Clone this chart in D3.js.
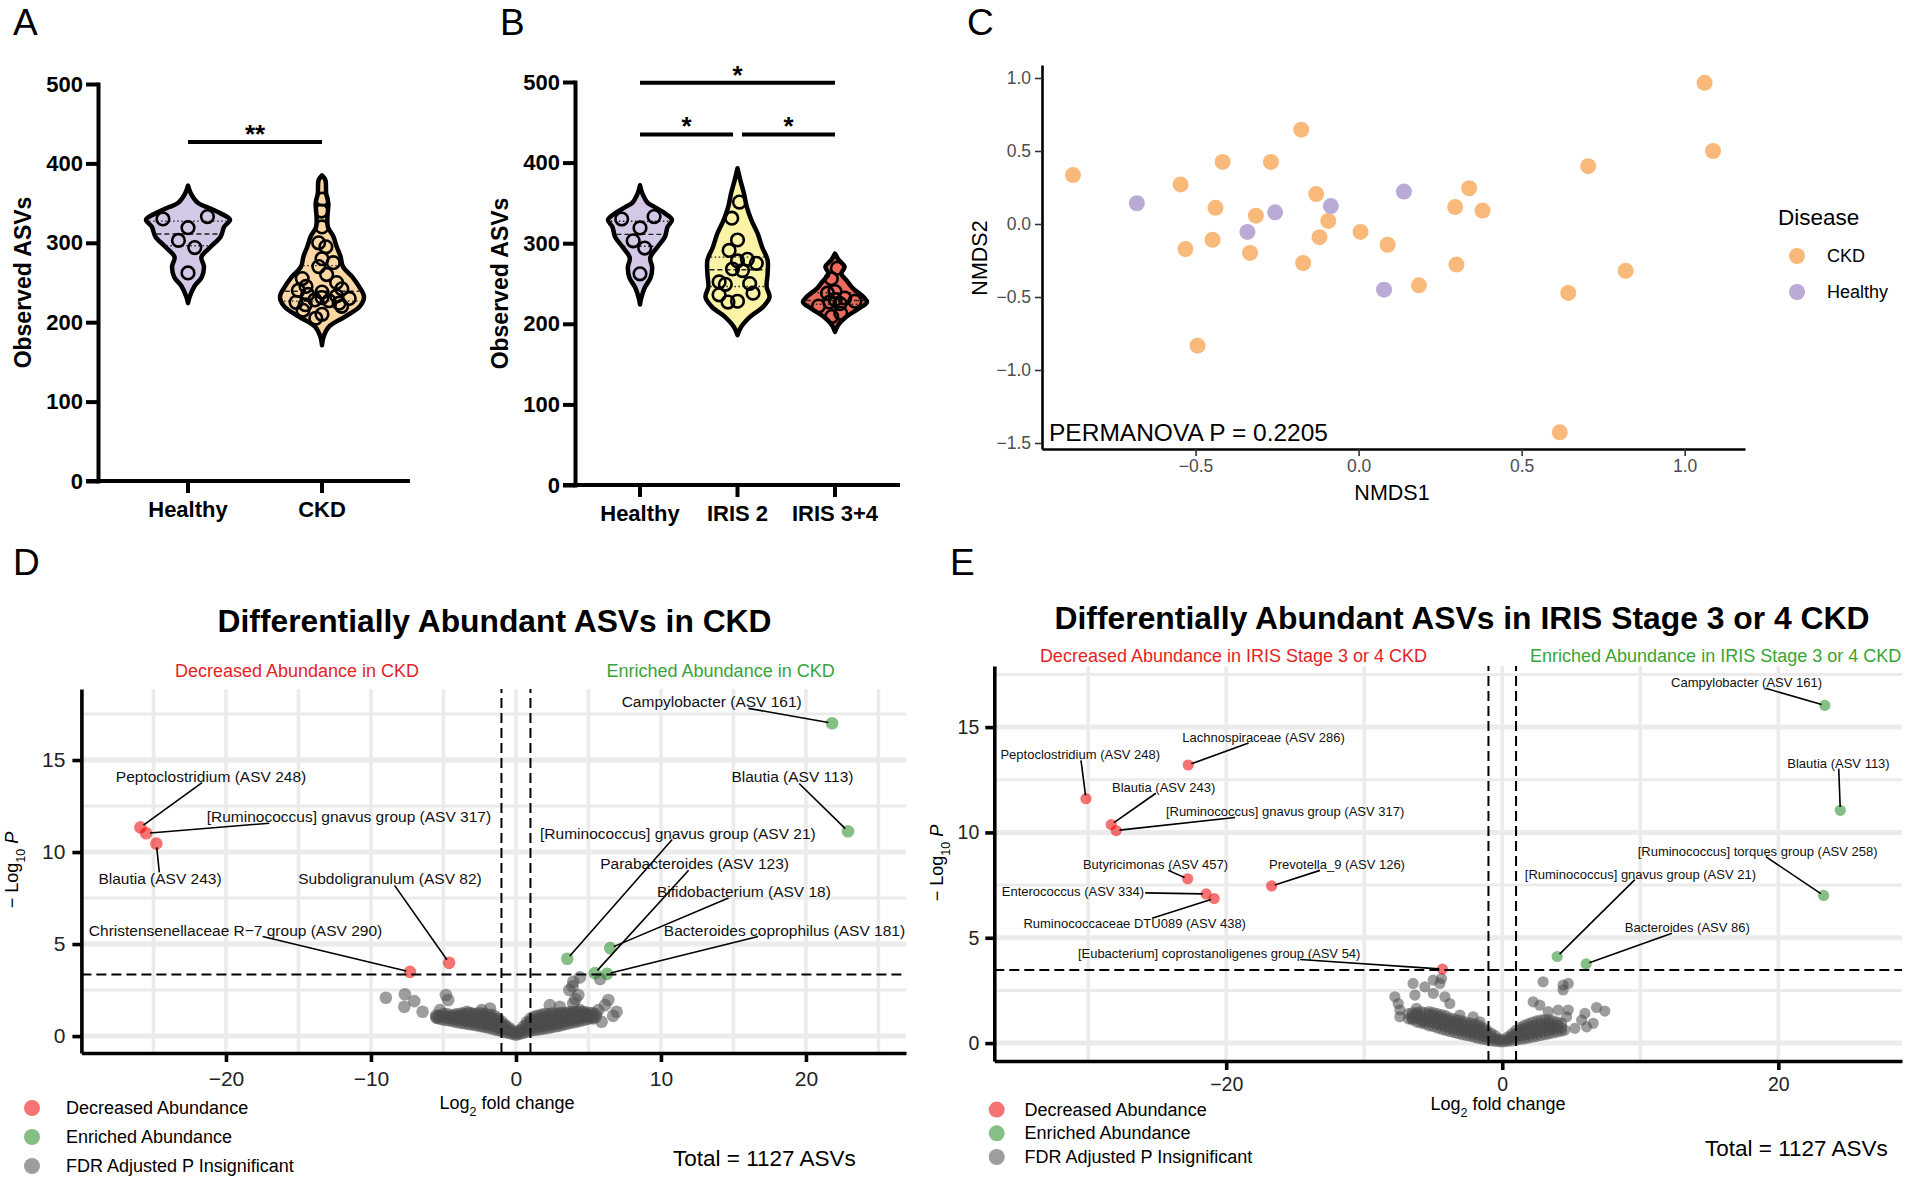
<!DOCTYPE html>
<html>
<head>
<meta charset="utf-8">
<title>Gut microbiome diversity and differential abundance in CKD</title>
<script src="https://cdn.jsdelivr.net/npm/d3@7.9.0/dist/d3.min.js"></script>
<style>
  body { margin: 0; background: #fff; }
  svg { display: block; font-family: "Liberation Sans", Arial, Helvetica, sans-serif; }
</style>
</head>
<body>
<svg id="figure" width="1907" height="1181"></svg>
<script>
// ---------- A / B : observed ASVs ----------
const groupsA = ["Healthy", "CKD"];
const groupsB = ["Healthy", "IRIS 2", "IRIS 3+4"];
const asvTicks = [0, 100, 200, 300, 400, 500];

const healthyASVs = [333, 330, 319, 303, 294, 262];
const ckdASVs = [355, 340, 320, 300, 295, 280, 275, 270, 260, 255, 250, 245, 242, 240,
                 238, 235, 233, 231, 230, 228, 227, 225, 224, 222, 220, 215, 210, 205];
const iris2ASVs = [351, 331, 304, 291, 280, 278, 275, 268, 266, 252, 250, 249, 238, 236, 228, 227];
const iris34ASVs = [269, 256, 240, 238, 232, 230, 228, 227, 225, 222, 213, 209];

// violin outlines as drawn in the figure: [observed ASVs, relative half width]
const healthyShape = [[372, 0], [362, 0.07], [350, 0.24], [345, 0.45], [337, 0.78], [329, 1], [320, 0.86],
  [308, 0.78], [295, 0.54], [282, 0.32], [270, 0.38], [257, 0.33], [245, 0.15], [232, 0.04], [224, 0]];
const ckdShape = [[385, 0], [379, 0.08], [362, 0.1], [350, 0.15], [333, 0.13], [320, 0.14], [308, 0.27],
  [295, 0.35], [283, 0.44], [270, 0.5], [257, 0.72], [245, 0.88], [232, 1], [220, 0.9], [207, 0.55],
  [194, 0.16], [182, 0.04], [171, 0]];
const iris2Shape = [[393, 0], [378, 0.09], [362, 0.2], [345, 0.29], [329, 0.43], [312, 0.63], [295, 0.77],
  [279, 0.94], [262, 0.94], [246, 0.91], [233, 1], [221, 0.8], [209, 0.4], [196, 0.11], [186, 0]];
const iris34Shape = [[287, 0], [279, 0.12], [271, 0.3], [262, 0.2], [254, 0.36], [244, 0.56], [233, 0.9],
  [227, 1], [219, 0.75], [209, 0.36], [198, 0.09], [190, 0]];

// significance brackets: [from, to, height in ASVs, stars]
const sigA = [["Healthy", "CKD", 427, "**"]];
const sigB = [["Healthy", "IRIS 3+4", 499, "*"], ["Healthy", "IRIS 2", 435, "*"], ["IRIS 2", "IRIS 3+4", 435, "*"]];

// ---------- C : NMDS ordination ----------
const ckdNMDS = [[-0.876, 0.335], [-0.546, 0.271], [-0.417, 0.425], [-0.269, 0.425], [-0.176, 0.646],
  [-0.439, 0.111], [-0.315, 0.057], [-0.130, 0.205], [-0.093, 0.021], [-0.531, -0.172], [-0.448, -0.108],
  [-0.333, -0.198], [-0.120, -0.090], [-0.170, -0.267], [0.006, -0.054], [0.089, -0.142], [0.185, -0.420],
  [0.296, 0.116], [0.339, 0.245], [0.380, 0.092], [0.300, -0.278], [-0.494, -0.833], [0.704, 0.396],
  [1.061, 0.967], [1.087, 0.500], [0.819, -0.321], [0.643, -0.472], [0.617, -1.427]];
const healthyNMDS = [[-0.680, 0.142], [-0.256, 0.080], [-0.341, -0.054], [-0.085, 0.123], [0.139, 0.222], [0.078, -0.450]];
const nmdsTicksX = [-0.5, 0, 0.5, 1];
const nmdsTicksY = [-1.5, -1, -0.5, 0, 0.5, 1];

// ---------- D : CKD vs healthy volcano ----------
const volcanoYTicks = [0, 5, 10, 15];
const dXTicks = [-20, -10, 0, 10, 20];
const dDown = [
  ["Peptoclostridium (ASV 248)", -25.9, 11.34],
  ["[Ruminococcus] gnavus group (ASV 317)", -25.5, 11.02],
  ["Blautia (ASV 243)", -24.8, 10.46],
  ["Christensenellaceae R\u22127 group (ASV 290)", -7.31, 3.49],
  ["Subdoligranulum (ASV 82)", -4.61, 3.98]];
const dUp = [
  ["Campylobacter (ASV 161)", 21.8, 17.0],
  ["Blautia (ASV 113)", 22.9, 11.13],
  ["[Ruminococcus] gnavus group (ASV 21)", 3.54, 4.2],
  ["Parabacteroides (ASV 123)", 5.44, 3.42],
  ["Bifidobacterium (ASV 18)", 6.5, 4.78],
  ["Bacteroides coprophilus (ASV 181)", 6.28, 3.38]];
// where the repelled labels sit, in axis units
const dLabelSpots = {
  "Peptoclostridium (ASV 248)": [-21.03, 14.13],
  "[Ruminococcus] gnavus group (ASV 317)": [-11.52, 11.92],
  "Blautia (ASV 243)": [-24.55, 8.54],
  "Christensenellaceae R\u22127 group (ASV 290)": [-19.34, 5.76],
  "Subdoligranulum (ASV 82)": [-8.69, 8.54],
  "Campylobacter (ASV 161)": [13.5, 18.16],
  "Blautia (ASV 113)": [19.07, 14.08],
  "[Ruminococcus] gnavus group (ASV 21)": [11.17, 11.03],
  "Parabacteroides (ASV 123)": [12.32, 9.36],
  "Bifidobacterium (ASV 18)": [15.72, 7.85],
  "Bacteroides coprophilus (ASV 181)": [18.52, 5.76]};
// non-significant ASVs: scattered ones, then the dense core read column by column
const dInsigLoose = [
  [-8.97, 2.08], [-7.66, 2.27], [-7.7, 1.59], [-7.01, 1.9], [-6.44, 1.32], [-4.83, 2.23], [-4.67, 1.96],
  [-5.24, 1.41], [-5.43, 1.01], [-3.4, 1.32], [-1.79, 1.5], [-2.37, 1.41],
  [3.95, 2.95], [4.41, 3.19], [3.68, 2.5], [3.9, 2.7], [4.3, 2.23], [3.95, 1.78], [4.1, 2.0], [2.34, 1.68],
  [3.03, 1.59], [6.37, 1.96], [6.14, 1.68], [6.94, 1.32], [5.68, 1.41], [5.33, 0.96], [5.91, 0.78],
  [4.41, 1.41], [4.87, 1.14], [5.8, 3.1], [6.7, 1.1]];
const dInsigCore = [
  [-5.5, [1.0, 1.12]], [-5.25, [0.95, 1.1]], [-5.0, [0.9, 1.05, 1.2]], [-4.75, [0.87, 1.03, 1.2]],
  [-4.5, [0.84, 0.98, 1.1]], [-4.25, [0.8, 0.97, 1.15]], [-4.0, [0.76, 0.93, 1.08, 1.2]],
  [-3.75, [0.72, 0.9, 1.06, 1.22]], [-3.5, [0.7, 0.87, 1.03, 1.2]], [-3.25, [0.66, 0.84, 1.02, 1.25]],
  [-3.0, [0.63, 0.8, 0.98, 1.15, 1.22]], [-2.75, [0.6, 0.78, 0.96, 1.2]], [-2.5, [0.55, 0.74, 0.92, 1.1, 1.25]],
  [-2.25, [0.52, 0.7, 0.88, 1.05, 1.2]], [-2.0, [0.48, 0.66, 0.84, 1.0, 1.15]],
  [-1.75, [0.43, 0.62, 0.8, 0.98, 1.15]], [-1.5, [0.38, 0.56, 0.74, 0.92, 1.1]],
  [-1.25, [0.33, 0.5, 0.68, 0.85, 0.95]], [-1.0, [0.28, 0.45, 0.62, 0.8]], [-0.75, [0.22, 0.38, 0.52, 0.6]],
  [-0.5, [0.18, 0.32, 0.45]], [-0.25, [0.12, 0.22, 0.3]], [0, [0.08, 0.15]], [0.25, [0.12, 0.22, 0.3]],
  [0.5, [0.18, 0.34, 0.5]], [0.75, [0.24, 0.42, 0.6, 0.75]], [1.0, [0.3, 0.47, 0.64, 0.8, 0.95]],
  [1.25, [0.33, 0.5, 0.68, 0.86, 1.05]], [1.5, [0.36, 0.54, 0.72, 0.9, 1.1]],
  [1.75, [0.39, 0.58, 0.76, 0.95, 1.15]], [2.0, [0.42, 0.6, 0.8, 1.0, 1.2]],
  [2.25, [0.45, 0.64, 0.83, 1.02, 1.2]], [2.5, [0.5, 0.68, 0.86, 1.04, 1.22]],
  [2.75, [0.53, 0.7, 0.88, 1.05, 1.2]], [3.0, [0.57, 0.74, 0.92, 1.1, 1.25]],
  [3.25, [0.62, 0.8, 0.98, 1.15, 1.25]], [3.5, [0.67, 0.85, 1.02, 1.18, 1.25]],
  [3.75, [0.72, 0.88, 1.05, 1.2, 1.3]], [4.0, [0.76, 0.92, 1.08, 1.22, 1.3]], [4.25, [0.8, 0.96, 1.12, 1.3]],
  [4.5, [0.85, 1.0, 1.15, 1.3]], [4.75, [0.9, 1.05, 1.2, 1.3]], [5.0, [0.95, 1.1, 1.25]],
  [5.25, [1.0, 1.12, 1.25]], [5.5, [1.05, 1.2]]];

// ---------- E : IRIS stage 3/4 vs healthy volcano ----------
const eXTicks = [-20, 0, 20];
const eDown = [
  ["Lachnospiraceae (ASV 286)", -22.75, 13.2],
  ["Peptoclostridium (ASV 248)", -30.16, 11.6],
  ["Blautia (ASV 243)", -28.33, 10.37],
  ["[Ruminococcus] gnavus group (ASV 317)", -27.97, 10.09],
  ["Butyricimonas (ASV 457)", -22.79, 7.8],
  ["Enterococcus (ASV 334)", -21.45, 7.08],
  ["Ruminococcaceae DTU089 (ASV 438)", -20.87, 6.86],
  ["Prevotella_9 (ASV 126)", -16.71, 7.46],
  ["[Eubacterium] coprostanoligenes group (ASV 54)", -4.33, 3.51]];
const eUp = [
  ["Campylobacter (ASV 161)", 23.37, 16.03],
  ["Blautia (ASV 113)", 24.49, 11.05],
  ["[Ruminococcus] torques group (ASV 258)", 23.28, 7.01],
  ["[Ruminococcus] gnavus group (ASV 21)", 3.98, 4.11],
  ["Bacteroides (ASV 86)", 6.08, 3.76]];
const eLabelSpots = {
  "Lachnospiraceae (ASV 286)": [-17.29, 14.51],
  "Peptoclostridium (ASV 248)": [-30.57, 13.68],
  "Blautia (ASV 243)": [-24.53, 12.12],
  "[Ruminococcus] gnavus group (ASV 317)": [-15.73, 10.97],
  "Butyricimonas (ASV 457)": [-25.12, 8.46],
  "Enterococcus (ASV 334)": [-31.1, 7.19],
  "Ruminococcaceae DTU089 (ASV 438)": [-26.63, 5.67],
  "Prevotella_9 (ASV 126)": [-11.97, 8.46],
  "[Eubacterium] coprostanoligenes group (ASV 54)": [-20.51, 4.23],
  "Campylobacter (ASV 161)": [17.7, 17.1],
  "Blautia (ASV 113)": [24.36, 13.29],
  "[Ruminococcus] torques group (ASV 258)": [18.5, 9.11],
  "[Ruminococcus] gnavus group (ASV 21)": [10.01, 8.02],
  "Bacteroides (ASV 86)": [13.41, 5.48]};
const eInsigLoose = [
  [-7.78, 2.2], [-7.54, 1.88], [-7.42, 1.57], [-7.42, 1.25], [-6.46, 2.83], [-6.33, 2.28], [-5.61, 2.67],
  [-5.0, 2.36], [-5.0, 2.99], [-4.4, 3.07], [-4.52, 2.83], [-4.16, 2.2], [-3.8, 1.88], [-6.21, 1.65],
  [-6.57, 1.17], [-5.73, 1.01], [-3.07, 1.33], [-2.11, 1.25], [-1.62, 1.01],
  [2.96, 2.91], [4.41, 2.75], [4.78, 2.83], [4.41, 2.52], [2.24, 1.96], [2.72, 1.8], [3.33, 1.49],
  [4.05, 1.57], [4.78, 1.57], [4.66, 1.25], [6.83, 1.69], [7.43, 1.52], [5.99, 1.41], [5.75, 1.09],
  [6.59, 0.94], [6.11, 0.77], [5.26, 0.7], [4.54, 0.62], [3.69, 0.7]];
const eInsigCore = [
  [-6.8, [1.15, 1.4]], [-6.5, [1.1, 1.28, 1.45]], [-6.2, [1.0, 1.18, 1.35, 1.45]],
  [-5.9, [0.95, 1.12, 1.3, 1.5]], [-5.6, [0.9, 1.08, 1.26, 1.45]], [-5.3, [0.82, 1.0, 1.18, 1.36, 1.5]],
  [-5.0, [0.78, 0.96, 1.14, 1.32, 1.45]], [-4.7, [0.72, 0.9, 1.08, 1.26, 1.4]],
  [-4.4, [0.66, 0.84, 1.02, 1.2, 1.35]], [-4.1, [0.6, 0.78, 0.96, 1.14, 1.3]],
  [-3.8, [0.55, 0.72, 0.9, 1.06, 1.2]], [-3.5, [0.5, 0.68, 0.86, 1.02, 1.15]],
  [-3.2, [0.45, 0.63, 0.8, 0.96, 1.1]], [-2.9, [0.4, 0.58, 0.75, 0.92, 1.05]],
  [-2.6, [0.36, 0.54, 0.7, 0.86, 1.0]], [-2.3, [0.32, 0.5, 0.66, 0.82, 0.95]],
  [-2.0, [0.27, 0.44, 0.6, 0.76, 0.9]], [-1.7, [0.22, 0.4, 0.56, 0.72, 0.85]],
  [-1.4, [0.18, 0.34, 0.5, 0.65, 0.75]], [-1.1, [0.14, 0.3, 0.45, 0.6]], [-0.8, [0.1, 0.24, 0.36, 0.48]],
  [-0.5, [0.08, 0.2, 0.35]], [-0.2, [0.06, 0.14, 0.2]], [0.1, [0.06, 0.15]], [0.4, [0.08, 0.18, 0.3]],
  [0.7, [0.1, 0.22, 0.34, 0.45]], [1.0, [0.14, 0.3, 0.46, 0.62]], [1.3, [0.17, 0.34, 0.5, 0.65, 0.75]],
  [1.6, [0.2, 0.38, 0.55, 0.7, 0.85]], [1.9, [0.24, 0.42, 0.6, 0.76, 0.92]],
  [2.2, [0.28, 0.46, 0.64, 0.82, 1.0]], [2.5, [0.32, 0.5, 0.68, 0.86, 1.05]],
  [2.8, [0.36, 0.54, 0.72, 0.9, 1.1]], [3.1, [0.4, 0.58, 0.76, 0.94, 1.12]],
  [3.4, [0.44, 0.62, 0.8, 0.96, 1.1]], [3.7, [0.48, 0.66, 0.84, 1.05]], [4.0, [0.53, 0.7, 0.86, 1.0]],
  [4.3, [0.57, 0.74, 0.95]]];

const totalASVs = 1127;

// ---------- colours ----------
const violinFill = { "Healthy": "#d3c8e6", "CKD": "#fbd7a3", "IRIS 2": "#fbf3a6", "IRIS 3+4": "#ee6a5c" };
const nmdsColor = { CKD: "#f9b97b", Healthy: "#b9aad6" };
const downColor = "#ee0000", upColor = "#228b22", insigColor = "#4d4d4d";

const svg = d3.select("#figure");
svg.append("rect").attr("width", 1907).attr("height", 1181).attr("fill", "#fff");

// panel letters
[["A", 13, 35], ["B", 500, 35], ["C", 967, 35], ["D", 13, 575], ["E", 950, 575]].forEach(([t, x, y]) =>
  svg.append("text").attr("x", x).attr("y", y).attr("font-size", 37).text(t));

// ---------------- violins ----------------
function widthAt(shape, v) {
  for (let i = 0; i < shape.length - 1; i++) {
    const [va, wa] = shape[i], [vb, wb] = shape[i + 1];
    if (v <= va && v >= vb) return wa + (wb - wa) * (va - v) / (va - vb);
  }
  return 0;
}
const spread = [0.6, -0.7, 0, -0.4, 0.4, 0, 0.75, -0.2, 0.2, -0.75, 0.5, -0.5];

function violinPanel(o) {
  const g = svg.append("g");
  const x = d3.scalePoint().domain(o.groups).range(o.xRange);
  const y = d3.scaleLinear().domain([0, 500]).range(o.yRange);

  o.series.forEach(s => {
    const cx = x(s.group);
    const area = d3.area().curve(d3.curveCatmullRom.alpha(0.5))
      .y(d => y(d[0])).x0(d => cx - d[1] * o.maxW).x1(d => cx + d[1] * o.maxW);
    g.append("path").attr("d", area(s.shape)).attr("fill", violinFill[s.group])
      .attr("stroke", "#000").attr("stroke-width", 4.5).attr("stroke-linejoin", "round");

    const sorted = s.values.slice().sort(d3.ascending);
    [[0.25, "1.5,2.5"], [0.5, "5,3"], [0.75, "1.5,2.5"]].forEach(([q, dash]) => {
      const v = d3.quantile(sorted, q), w = widthAt(s.shape, v) * o.maxW - 2;
      g.append("line").attr("x1", cx - w).attr("x2", cx + w).attr("y1", y(v)).attr("y2", y(v))
        .attr("stroke", "#222").attr("stroke-width", 1.4).attr("stroke-dasharray", dash);
    });

    const desc = s.values.slice().sort(d3.descending);
    g.selectAll(null).data(desc).join("circle")
      .attr("cx", (d, i) => cx + spread[i % spread.length] * Math.max(0, widthAt(s.shape, d) * o.maxW - 5))
      .attr("cy", d => y(d)).attr("r", 6.3)
      .attr("fill", "none").attr("stroke", "#000").attr("stroke-width", 2.6);
  });

  // y axis
  const ya = g.append("g").attr("transform", `translate(${o.axisX},0)`)
    .call(d3.axisLeft(y).tickValues(asvTicks).tickSize(12).tickSizeOuter(0).tickPadding(3));
  ya.select(".domain").attr("stroke-width", 4).attr("stroke-linecap", "square");
  ya.selectAll(".tick line").attr("stroke-width", 4);
  ya.selectAll(".tick text").attr("font-size", 22).attr("font-weight", "bold").attr("fill", "#000")
    .attr("font-family", "Liberation Sans, Arial, sans-serif");

  // x axis
  g.append("line").attr("x1", o.baseLeft).attr("x2", o.baseRight).attr("y1", y(0)).attr("y2", y(0))
    .attr("stroke", "#000").attr("stroke-width", 4);
  o.groups.forEach(k => {
    g.append("line").attr("x1", x(k)).attr("x2", x(k)).attr("y1", y(0)).attr("y2", y(0) + 12)
      .attr("stroke", "#000").attr("stroke-width", 4);
    g.append("text").attr("x", x(k)).attr("y", y(0) + 36).attr("text-anchor", "middle")
      .attr("font-size", 22).attr("font-weight", "bold").text(k);
  });

  g.append("text").attr("transform", `translate(${o.ylabelX},${(o.yRange[0] + o.yRange[1]) / 2}) rotate(-90)`)
    .attr("text-anchor", "middle").attr("font-size", 23).attr("font-weight", "bold").text("Observed ASVs");

  // significance brackets
  const inner = new Set(o.groups.slice(1, -1));
  o.sig.forEach(([a, b, h, stars]) => {
    const xa = x(a) + (inner.has(a) ? 4.5 : 0), xb = x(b) - (inner.has(b) ? 4.5 : 0);
    g.append("line").attr("x1", xa).attr("x2", xb).attr("y1", y(h)).attr("y2", y(h))
      .attr("stroke", "#000").attr("stroke-width", 4);
    g.append("text").attr("x", (xa + xb) / 2).attr("y", y(h) + 1).attr("text-anchor", "middle")
      .attr("font-size", 26).attr("font-weight", "bold").text(stars);
  });
}

violinPanel({
  groups: groupsA, xRange: [188, 322], yRange: [481, 84], axisX: 98, baseLeft: 86, baseRight: 410,
  maxW: 42, ylabelX: 31, sig: sigA,
  series: [{ group: "Healthy", values: healthyASVs, shape: healthyShape },
           { group: "CKD", values: ckdASVs, shape: ckdShape }]
});
violinPanel({
  groups: groupsB, xRange: [640, 835], yRange: [485, 82], axisX: 575, baseLeft: 563, baseRight: 900,
  maxW: 32, ylabelX: 508, sig: sigB,
  series: [{ group: "Healthy", values: healthyASVs, shape: healthyShape },
           { group: "IRIS 2", values: iris2ASVs, shape: iris2Shape },
           { group: "IRIS 3+4", values: iris34ASVs, shape: iris34Shape }]
});

// ---------------- C: NMDS ----------------
(function () {
  const g = svg.append("g");
  const x = d3.scaleLinear().domain([-0.971, 1.185]).range([1042, 1745]);
  const y = d3.scaleLinear().domain([-1.541, 1.089]).range([449, 65]);
  const fmt = d3.format(".1f");

  const pts = ckdNMDS.map(d => ({ d, k: "CKD" })).concat(healthyNMDS.map(d => ({ d, k: "Healthy" })));
  g.selectAll(null).data(pts).join("circle")
    .attr("cx", p => x(p.d[0])).attr("cy", p => y(p.d[1])).attr("r", 8)
    .attr("fill", p => nmdsColor[p.k]);

  const xa = g.append("g").attr("transform", "translate(0,449)")
    .call(d3.axisBottom(x).tickValues(nmdsTicksX).tickFormat(fmt).tickSize(7).tickSizeOuter(0).tickPadding(4));
  const ya = g.append("g").attr("transform", "translate(1042,0)")
    .call(d3.axisLeft(y).tickValues(nmdsTicksY).tickFormat(fmt).tickSize(7).tickSizeOuter(0).tickPadding(4));
  [xa, ya].forEach(a => {
    a.select(".domain").attr("stroke-width", 2.6);
    a.selectAll(".tick line").attr("stroke", "#333").attr("stroke-width", 1.6);
    a.selectAll(".tick text").attr("font-size", 17.5).attr("fill", "#4d4d4d")
      .attr("font-family", "Liberation Sans, Arial, sans-serif");
  });

  g.append("text").attr("x", 1392).attr("y", 500).attr("text-anchor", "middle").attr("font-size", 21.5).text("NMDS1");
  g.append("text").attr("transform", "translate(987,258) rotate(-90)").attr("text-anchor", "middle")
    .attr("font-size", 21.5).text("NMDS2");
  g.append("text").attr("x", 1049).attr("y", 441).attr("font-size", 24.5).text("PERMANOVA P = 0.2205");

  g.append("text").attr("x", 1778).attr("y", 225).attr("font-size", 22.5).text("Disease");
  ["CKD", "Healthy"].forEach((k, i) => {
    g.append("circle").attr("cx", 1797).attr("cy", 256 + i * 36).attr("r", 8).attr("fill", nmdsColor[k]);
    g.append("text").attr("x", 1827).attr("y", 262 + i * 36).attr("font-size", 18).text(k);
  });
})();

// ---------------- D / E: volcano plots ----------------
function volcano(o) {
  const g = svg.append("g");
  const x = d3.scaleLinear().domain(o.xDomain).range(o.xRange);
  const y = d3.scaleLinear().domain(o.yDomain).range(o.yRange);
  const [xl, xr] = o.xRange, [yb, yt] = o.yRange;
  const insig = o.loose.concat(o.core.flatMap(([fc, ps]) => ps.map(p => [fc, p])));

  // grid
  g.selectAll(null).data(o.vGrid).join("line")
    .attr("x1", x).attr("x2", x).attr("y1", yb).attr("y2", yt).attr("stroke", "#ebebeb").attr("stroke-width", 3.5);
  g.selectAll(null).data([2.5, 7.5, 12.5, 17.5]).join("line")
    .attr("x1", xl).attr("x2", xr).attr("y1", y).attr("y2", y).attr("stroke", "#ebebeb").attr("stroke-width", 3);
  g.selectAll(null).data(volcanoYTicks).join("line")
    .attr("x1", xl).attr("x2", xr).attr("y1", y).attr("y2", y).attr("stroke", "#ebebeb").attr("stroke-width", 5);

  // points
  g.selectAll(null).data(insig).join("circle")
    .attr("cx", d => x(d[0])).attr("cy", d => y(d[1])).attr("r", o.r)
    .attr("fill", insigColor).attr("fill-opacity", 0.55);
  [[o.down, downColor], [o.up, upColor]].forEach(([set, c]) =>
    g.selectAll(null).data(set).join("circle")
      .attr("cx", d => x(d[1])).attr("cy", d => y(d[2])).attr("r", o.r)
      .attr("fill", c).attr("fill-opacity", 0.55));

  // cut-offs
  [-1, 1].forEach(v => g.append("line").attr("x1", x(v)).attr("x2", x(v)).attr("y1", yb).attr("y2", yt)
    .attr("stroke", "#000").attr("stroke-width", 2).attr("stroke-dasharray", "10,5"));
  g.append("line").attr("x1", xl).attr("x2", xr).attr("y1", y(o.pCut)).attr("y2", y(o.pCut))
    .attr("stroke", "#000").attr("stroke-width", 2).attr("stroke-dasharray", "10,5");

  // repelled labels with segments
  const segs = g.append("g"), labs = g.append("g");
  o.down.concat(o.up).forEach(([name, fc, p]) => {
    const [lx, ly] = o.spots[name];
    const t = labs.append("text").attr("x", x(lx)).attr("y", y(ly))
      .attr("text-anchor", "middle").attr("dominant-baseline", "central")
      .attr("font-size", o.labelSize).attr("fill", "#111").text(name);
    const b = t.node().getBBox();
    const cx = b.x + b.width / 2, cy = b.y + b.height / 2;
    const px = x(fc), py = y(p), dx = px - cx, dy = py - cy;
    const hw = b.width / 2 + 1, hh = b.height / 2 - 2;
    const s = Math.min(dx ? hw / Math.abs(dx) : Infinity, dy ? hh / Math.abs(dy) : Infinity);
    if (s >= 1) return;
    const sx = cx + dx * s, sy = cy + dy * s, len = Math.hypot(px - sx, py - sy);
    const cut = Math.min(o.r * 0.6, len);
    segs.append("line").attr("x1", sx).attr("y1", sy)
      .attr("x2", px - (px - sx) / len * cut).attr("y2", py - (py - sy) / len * cut)
      .attr("stroke", "#000").attr("stroke-width", 1.6);
  });

  // axes
  const ya = g.append("g").attr("transform", `translate(${xl},0)`)
    .call(d3.axisLeft(y).tickValues(volcanoYTicks).tickSize(9).tickSizeOuter(0).tickPadding(o.yPad));
  const xa = g.append("g").attr("transform", `translate(0,${yb})`)
    .call(d3.axisBottom(x).tickValues(o.xTicks).tickFormat(d3.format("d")).tickSize(9).tickSizeOuter(0).tickPadding(o.xPad));
  [xa, ya].forEach(a => {
    a.select(".domain").attr("stroke-width", 3.6);
    a.selectAll(".tick line").attr("stroke-width", 3.6);
    a.selectAll(".tick text").attr("font-size", o.tickSize).attr("fill", "#222")
      .attr("font-family", "Liberation Sans, Arial, sans-serif");
  });

  const xt = g.append("text").attr("x", o.xTitle[0]).attr("y", o.xTitle[1]).attr("text-anchor", "middle").attr("font-size", 18);
  xt.append("tspan").text("Log");
  xt.append("tspan").attr("baseline-shift", "sub").attr("font-size", 12.5).text("2");
  xt.append("tspan").text(" fold change");

  const yt2 = g.append("text").attr("transform", `translate(${o.yTitle[0]},${o.yTitle[1]}) rotate(-90)`)
    .attr("text-anchor", "middle").attr("font-size", 18);
  yt2.append("tspan").text("\u2212 Log");
  yt2.append("tspan").attr("baseline-shift", "sub").attr("font-size", 12.5).text("10");
  yt2.append("tspan").text(" ");
  yt2.append("tspan").attr("font-style", "italic").text("P");

  g.append("text").attr("x", o.title[0]).attr("y", o.title[1]).attr("text-anchor", "middle")
    .attr("font-size", 32).attr("font-weight", "bold")
    .attr("textLength", o.title[2]).attr("lengthAdjust", "spacingAndGlyphs").text(o.titleText);
  o.subs.forEach(([txt, c, sx, sy, anchor]) =>
    g.append("text").attr("x", sx).attr("y", sy).attr("text-anchor", anchor).attr("font-size", 18)
      .attr("fill", c).text(txt));

  [["Decreased Abundance", downColor], ["Enriched Abundance", upColor], ["FDR Adjusted P Insignificant", insigColor]]
    .forEach(([txt, c], i) => {
      const ly = o.legend[1] + i * o.legend[3];
      g.append("circle").attr("cx", o.legend[0]).attr("cy", ly).attr("r", 8).attr("fill", c).attr("fill-opacity", 0.55);
      g.append("text").attr("x", o.legend[2]).attr("y", ly).attr("dominant-baseline", "central")
        .attr("font-size", 18).text(txt);
    });
  g.append("text").attr("x", o.total[0]).attr("y", o.total[1]).attr("font-size", 22.5)
    .text(`Total = ${totalASVs} ASVs`);
}

volcano({
  xDomain: [-29.97, 26.9], xRange: [81.4, 906], yDomain: [-0.92, 18.86], yRange: [1053, 689],
  xTicks: dXTicks, vGrid: [-25, -20, -15, -10, -5, 0, 5, 10, 15, 20, 25], pCut: 3.34,
  loose: dInsigLoose, core: dInsigCore, down: dDown, up: dUp, spots: dLabelSpots, r: 6.3, labelSize: 15.5,
  tickSize: 21, yPad: 7, xPad: 9,
  xTitle: [507, 1109], yTitle: [18, 870],
  title: [494.5, 632, 554], titleText: "Differentially Abundant ASVs in CKD",
  subs: [["Decreased Abundance in CKD", "#e3231f", 297, 677, "middle"],
         ["Enriched Abundance in CKD", "#36a536", 720.6, 677, "middle"]],
  legend: [32, 1108, 66, 29], total: [673, 1166]
});
volcano({
  xDomain: [-36.8, 28.96], xRange: [994.3, 1902], yDomain: [-0.85, 17.9], yRange: [1061, 666],
  xTicks: eXTicks, vGrid: [-30, -20, -10, 0, 10, 20], pCut: 3.47,
  loose: eInsigLoose, core: eInsigCore, down: eDown, up: eUp, spots: eLabelSpots, r: 5.6, labelSize: 13,
  tickSize: 19.5, yPad: 6, xPad: 7,
  xTitle: [1498, 1110], yTitle: [943, 863],
  title: [1462, 629, 815], titleText: "Differentially Abundant ASVs in IRIS Stage 3 or 4 CKD",
  subs: [["Decreased Abundance in IRIS Stage 3 or 4 CKD", "#e3231f", 1233.5, 662, "middle"],
         ["Enriched Abundance in IRIS Stage 3 or 4 CKD", "#36a536", 1530, 662, "start"]],
  legend: [996.7, 1109.6, 1024.5, 23.7], total: [1705, 1156]
});
</script>
</body>
</html>
